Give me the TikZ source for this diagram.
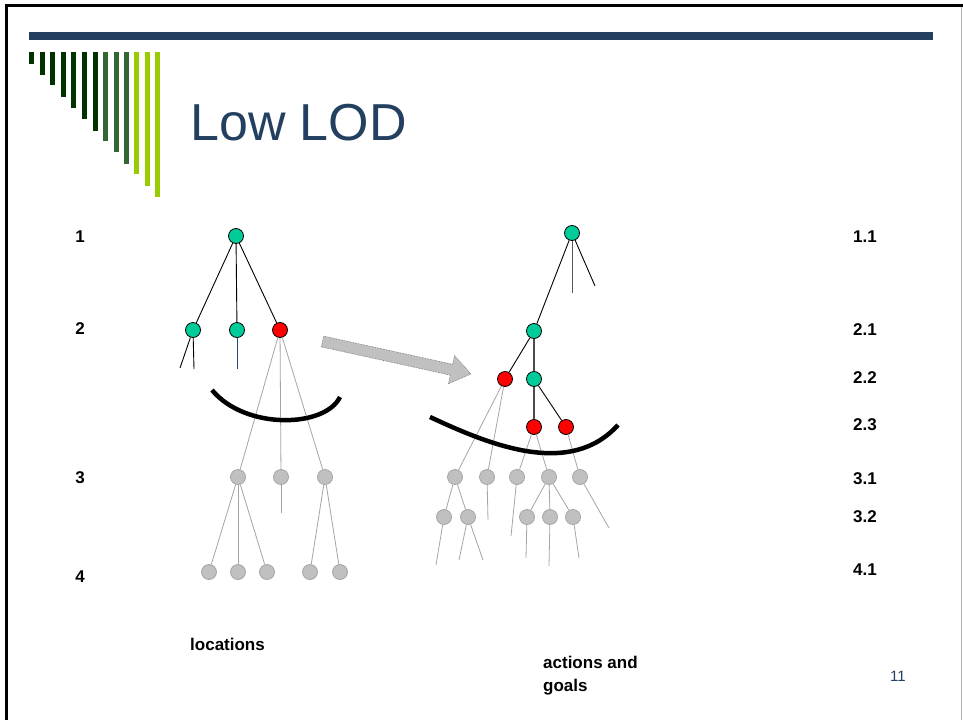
\documentclass[tikz,border=0pt]{standalone}
\usepackage{fontspec}
\setmainfont{Liberation Sans}
\begin{document}
\begin{tikzpicture}[x=1pt,y=-1pt,
  gn/.style={circle,draw=black,line width=0.8pt,fill={rgb,255:red,0;green,204;blue,153},minimum size=15pt,inner sep=0pt},
  rn/.style={circle,draw=black,line width=0.8pt,fill=red,minimum size=15pt,inner sep=0pt},
  pn/.style={circle,draw={rgb,255:red,165;green,165;blue,165},line width=0.8pt,fill={rgb,255:red,192;green,192;blue,192},minimum size=15pt,inner sep=0pt},
  blk/.style={draw=black,line width=0.9pt},
  gry/.style={draw={rgb,255:red,165;green,165;blue,165},line width=0.8pt},
  cutline/.style={draw=black,line width=4.5pt},
  lvl/.style={font=\bfseries\fontsize{17}{20}\selectfont,inner sep=0pt},
  captext/.style={font=\bfseries\fontsize{17}{20}\selectfont,inner sep=0pt,anchor=base west}]
\definecolor{slateblue}{RGB}{36,64,96}
\definecolor{darkgr}{RGB}{0,51,0}
\definecolor{midgr}{RGB}{51,102,51}
\definecolor{lightgr}{RGB}{153,204,0}
\useasboundingbox (0,0) rectangle (963,720);
\fill[white] (0,0) rectangle (963,720);

% slide frame
\fill[black] (5,4) rectangle (963,7);
\fill[black] (5,4) rectangle (8,720);
\fill[gray!60] (961,7) rectangle (962,720);

% header bar and decorative bars
\fill[slateblue] (29,32) rectangle (933,40);
\foreach \xl/\yb/\c in {29/64/darkgr,40/75/darkgr,50/85/darkgr,61/97/darkgr,71/108/darkgr,82/119/darkgr,93/131/darkgr,
                         103/141/midgr,114/152/midgr,124/164/midgr,
                         134/174/lightgr,145/186/lightgr,155/197/lightgr}
  \fill[\c] (\xl,52) rectangle ++(5,\yb-52);

\node[anchor=base west,inner sep=0pt,text=slateblue,font=\fontsize{52}{60}\selectfont] (title) at (190,140) {Low LOD};

% level labels
\node[lvl] (l1) at (80,237) {1};
\node[lvl] (l2) at (80,329) {2};
\node[lvl] (l3) at (80,478) {3};
\node[lvl] (l4) at (80,577) {4};
\foreach \n/\y/\t in {m11/237/1.1,m21/330/2.1,m22/378/2.2,m23/425/2.3,m31/479/3.1,m32/517/3.2,m41/570/4.1}
  \node[lvl,anchor=west] (\n) at (853,\y) {\t};

% left tree
\node[gn] (a) at (236,236) {};
\node[gn] (b1) at (193,330) {};
\node[gn] (b2) at (237,330) {};
\node[rn] (b3) at (280,330) {};
\node[pn] (c1) at (238,477) {};
\node[pn] (c2) at (281,477) {};
\node[pn] (c3) at (325,477) {};
\node[pn] (d1) at (209,572) {};
\node[pn] (d2) at (238,572) {};
\node[pn] (d3) at (267,572) {};
\node[pn] (d4) at (310,572) {};
\node[pn] (d5) at (340,572) {};
\coordinate (e1) at (180,368);
\coordinate (e2) at (194,369);
\coordinate (e3) at (237,369);
\coordinate (e4) at (281,513);
\draw[blk] (a) -- (b1);
\draw[blk] (a) -- (b2);
\draw[blk] (a) -- (b3);
\draw[blk] (b1) -- (e1);
\draw[blk] (b1) -- (e2);
\draw[draw={rgb,255:red,31;green,73;blue,125},line width=0.9pt] (b2) -- (e3);
\draw[gry] (b3) -- (c1);
\draw[gry] (b3) -- (c2);
\draw[gry] (b3) -- (c3);
\draw[gry] (c1) -- (d1);
\draw[gry] (c1) -- (d2);
\draw[gry] (c1) -- (d3);
\draw[gry] (c2) -- (e4);
\draw[gry] (c3) -- (d4);
\draw[gry] (c3) -- (d5);

% block arrow between the trees
\draw[fill={rgb,255:red,192;green,192;blue,192},draw=gray!80!black,line width=0.6pt,densely dotted]
  (323.7,336.1) -- (452.7,364.3) -- (454.6,355.6) -- (471,374) -- (448.4,383.8) -- (450.3,375.1) -- (321.3,346.9) -- cycle;

% right tree
\node[gn] (r0) at (572,233) {};
\node[gn] (r1) at (534,331) {};
\node[rn] (r2a) at (505,379) {};
\node[gn] (r2b) at (534,379) {};
\node[rn] (r3a) at (534,427) {};
\node[rn] (r3b) at (566,427) {};
\node[pn] (q1) at (455,477) {};
\node[pn] (q2) at (487,477) {};
\node[pn] (q3) at (517,477) {};
\node[pn] (q4) at (549,477) {};
\node[pn] (q5) at (580,477) {};
\node[pn] (s1) at (444,517) {};
\node[pn] (s2) at (468,517) {};
\node[pn] (s3) at (527,517) {};
\node[pn] (s4) at (550,517) {};
\node[pn] (s5) at (573,517) {};
\coordinate (f1) at (572,293);
\coordinate (f2) at (595,286);
\coordinate (f3) at (488,520);
\coordinate (f4) at (511,536);
\coordinate (f5) at (609,528);
\coordinate (f6) at (436,565);
\coordinate (f7) at (459,560);
\coordinate (f8) at (483,560);
\coordinate (f9) at (526,558);
\coordinate (f10) at (549,566);
\coordinate (f11) at (579,558);
\draw[draw=gray!70!black,line width=0.9pt] (r0) -- (f1);
\draw[blk] (r0) -- (f2);
\draw[blk] (r0) -- (r1);
\draw[blk] (r1) -- (r2a);
\draw[draw=gray!60!black,line width=1.1pt] (r1) -- (r2b);
\draw[draw=gray!60!black,line width=1.1pt] (r2b) -- (r3a);
\draw[blk] (r2b) -- (r3b);
\draw[gry] (r2a) -- (q1);
\draw[gry] (r2a) -- (q2);
\draw[gry] (r3a) -- (q3);
\draw[gry] (r3a) -- (q4);
\draw[gry] (r3b) -- (q5);
\draw[gry] (q1) -- (s1);
\draw[gry] (q1) -- (s2);
\draw[gry] (q2) -- (f3);
\draw[gry] (q3) -- (f4);
\draw[gry] (q4) -- (s3);
\draw[gry] (q4) -- (s4);
\draw[gry] (q4) -- (s5);
\draw[gry] (q5) -- (f5);
\draw[gry] (s1) -- (f6);
\draw[gry] (s2) -- (f7);
\draw[gry] (s2) -- (f8);
\draw[gry] (s3) -- (f9);
\draw[gry] (s4) -- (f10);
\draw[gry] (s5) -- (f11);

% level-of-detail cut lines
\draw[cutline] (212,390) .. controls (245,430) and (325,428) .. (340,397);
\draw[cutline] (430,417) .. controls (490,445) and (570,478) .. (618,425);

% captions
\node[captext] (loc) at (190,650) {locations};
\node[captext] (act) at (543,668) {actions and};
\node[captext] (goa) at (543,691) {goals};
\node[anchor=base west,inner sep=0pt,text=slateblue,font=\fontsize{15}{18}\selectfont] (pg) at (890,681) {11};
\end{tikzpicture}
\end{document}
